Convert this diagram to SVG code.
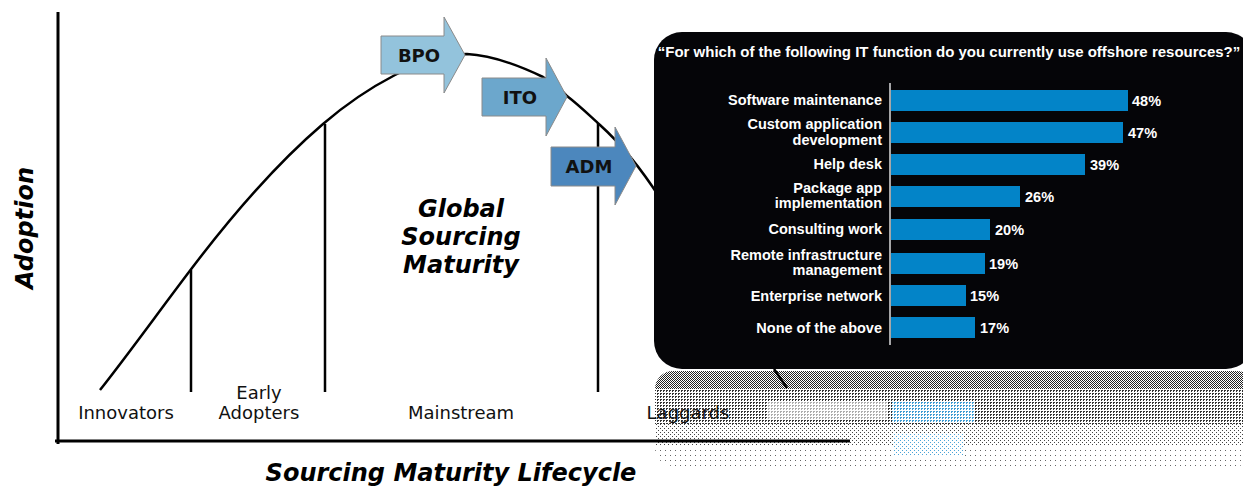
<svg xmlns="http://www.w3.org/2000/svg" width="1243" height="490" viewBox="0 0 1243 490">
<defs>
<style>
.ax{stroke:#000;stroke-width:3;fill:none}
.vl{stroke:#000;stroke-width:2.5;fill:none}
.crv{stroke:#000;stroke-width:2.5;fill:none}
.stage{font-family:"DejaVu Sans",Verdana,sans-serif;font-size:18px;fill:#111;text-anchor:middle}
.big{font-family:"DejaVu Sans",Verdana,sans-serif;font-size:24px;font-weight:bold;font-style:italic;fill:#000;text-anchor:middle}
.arr{stroke:#8a8a8a;stroke-width:1}
.arrt{font-family:"DejaVu Sans",Verdana,sans-serif;font-size:18px;font-weight:bold;fill:#111;text-anchor:middle}
.lbl{font-family:"Liberation Sans",Arial,sans-serif;font-size:14.5px;font-weight:bold;fill:#fff;text-anchor:end}
.pct{font-family:"Liberation Sans",Arial,sans-serif;font-size:14.5px;font-weight:bold;fill:#fff}
.bar{fill:#0384c8}
</style>
<pattern id="p1" width="2" height="2" patternUnits="userSpaceOnUse"><rect x="0" y="0" width="1" height="1" fill="#222"/><rect x="1" y="1" width="1" height="1" fill="#222"/></pattern>
<pattern id="p2" width="3" height="3" patternUnits="userSpaceOnUse"><rect x="0" y="0" width="2" height="1" fill="#333"/><rect x="0" y="1" width="1" height="1" fill="#333"/></pattern>
<pattern id="p3" width="4" height="4" patternUnits="userSpaceOnUse"><rect x="0" y="0" width="1" height="1" fill="#444"/><rect x="2" y="2" width="1" height="1" fill="#444"/></pattern>
<pattern id="p4" width="5" height="5" patternUnits="userSpaceOnUse"><rect x="0" y="0" width="1" height="1" fill="#666"/></pattern>
<pattern id="b2" width="3" height="3" patternUnits="userSpaceOnUse"><rect x="0" y="0" width="2" height="1" fill="#3d9bd2"/><rect x="0" y="1" width="1" height="1" fill="#3d9bd2"/></pattern>
<pattern id="b3" width="4" height="4" patternUnits="userSpaceOnUse"><rect x="0" y="0" width="1" height="1" fill="#4aa4d8"/><rect x="2" y="2" width="1" height="1" fill="#4aa4d8"/></pattern>
<clipPath id="refl"><rect x="655" y="371" width="600" height="95" rx="18"/></clipPath>
</defs>

<g id="reflection" clip-path="url(#refl)">
<rect x="655" y="371" width="600" height="18" fill="url(#p1)"/>
<rect x="655" y="389" width="600" height="35" fill="url(#p2)"/>
<rect x="655" y="424" width="600" height="22" fill="url(#p3)"/>
<rect x="655" y="446" width="600" height="20" fill="url(#p4)"/>
<rect x="767" y="401" width="120" height="19" fill="#fff" opacity="0.6"/>
<rect x="892" y="402" width="83" height="20" fill="#fff"/>
<rect x="892" y="402" width="83" height="20" fill="url(#b2)"/>
<rect x="894" y="434" width="69" height="22" fill="#fff"/>
<rect x="894" y="434" width="69" height="22" fill="url(#b3)"/>
</g>

<g id="axes">
<line class="ax" x1="58" y1="12" x2="58" y2="444"/>
<line class="ax" x1="55" y1="441" x2="850" y2="441"/>
</g>

<g id="dividers">
<line class="vl" x1="191" y1="270" x2="191" y2="392"/>
<line class="vl" x1="325" y1="124" x2="325" y2="392"/>
<line class="vl" x1="598" y1="123" x2="598" y2="392"/>
</g>

<g id="connectors">
<path class="crv" d="M100,390 C130,352 160,310 192,268 C230,218 275,165 323,124 C345,105 370,88 395,75 C420,62 445,54 467,54 C490,55 520,66 543,77 C555,84 562,90 567,96 C580,106 590,116 600,125 C620,143 640,167 660,198"/>
<line class="crv" x1="774" y1="369" x2="787" y2="388"/>
</g>

<g id="labels">
<text class="stage" x="126" y="419">Innovators</text>
<text class="stage" x="259" y="399">Early</text>
<text class="stage" x="259" y="419">Adopters</text>
<text class="stage" x="461" y="419">Mainstream</text>
<text class="stage" x="688" y="419">Laggards</text>
<text class="big" x="461" y="217">Global</text>
<text class="big" x="461" y="245">Sourcing</text>
<text class="big" x="461" y="273">Maturity</text>
<text class="big" x="451" y="481">Sourcing Maturity Lifecycle</text>
<text class="big" transform="translate(33,228) rotate(-90)">Adoption</text>
</g>

<g id="bpo">
<path class="arr" fill="#93c3dc" d="M381,36 H444 V17 L465,55 L444,93 V74 H381 Z"/>
<text class="arrt" x="419" y="62">BPO</text>
</g>
<g id="ito">
<path class="arr" fill="#6ca7cc" d="M482,78 H546 V58 L567,97 L546,136 V116 H482 Z"/>
<text class="arrt" x="520" y="104">ITO</text>
</g>
<g id="adm">
<path class="arr" fill="#4c87bd" d="M551,147 H615 V127 L636,166 L615,205 V186 H551 Z"/>
<text class="arrt" x="589" y="173">ADM</text>
</g>

<g id="survey">
<rect x="654" y="32" width="600" height="337" rx="28" fill="#050508"/>
<text x="949" y="57" font-family="Liberation Sans, Arial, sans-serif" font-size="15px" font-weight="bold" fill="#fff" text-anchor="middle">“For which of the following IT function do you currently use offshore resources?”</text>
<line x1="890" y1="83" x2="890" y2="345" stroke="#ddd" stroke-width="1.5"/>
<rect class="bar" x="891" y="90" width="237" height="21"/>
<rect class="bar" x="891" y="122" width="232" height="21"/>
<rect class="bar" x="891" y="154" width="194" height="21"/>
<rect class="bar" x="891" y="186" width="129" height="21"/>
<rect class="bar" x="891" y="219" width="99" height="21"/>
<rect class="bar" x="891" y="253" width="94" height="21"/>
<rect class="bar" x="891" y="285" width="75" height="21"/>
<rect class="bar" x="891" y="317" width="84" height="21"/>
<text class="lbl" x="882" y="105">Software maintenance</text>
<text class="lbl" x="882" y="129">Custom application</text>
<text class="lbl" x="882" y="145">development</text>
<text class="lbl" x="882" y="169">Help desk</text>
<text class="lbl" x="882" y="193">Package app</text>
<text class="lbl" x="882" y="208">implementation</text>
<text class="lbl" x="882" y="234">Consulting work</text>
<text class="lbl" x="882" y="260">Remote infrastructure</text>
<text class="lbl" x="882" y="275">management</text>
<text class="lbl" x="882" y="301">Enterprise network</text>
<text class="lbl" x="882" y="333">None of the above</text>
<text class="pct" x="1132" y="106">48%</text>
<text class="pct" x="1128" y="138">47%</text>
<text class="pct" x="1090" y="170">39%</text>
<text class="pct" x="1025" y="202">26%</text>
<text class="pct" x="995" y="235">20%</text>
<text class="pct" x="989" y="269">19%</text>
<text class="pct" x="970" y="301">15%</text>
<text class="pct" x="980" y="333">17%</text>
</g>
</svg>
